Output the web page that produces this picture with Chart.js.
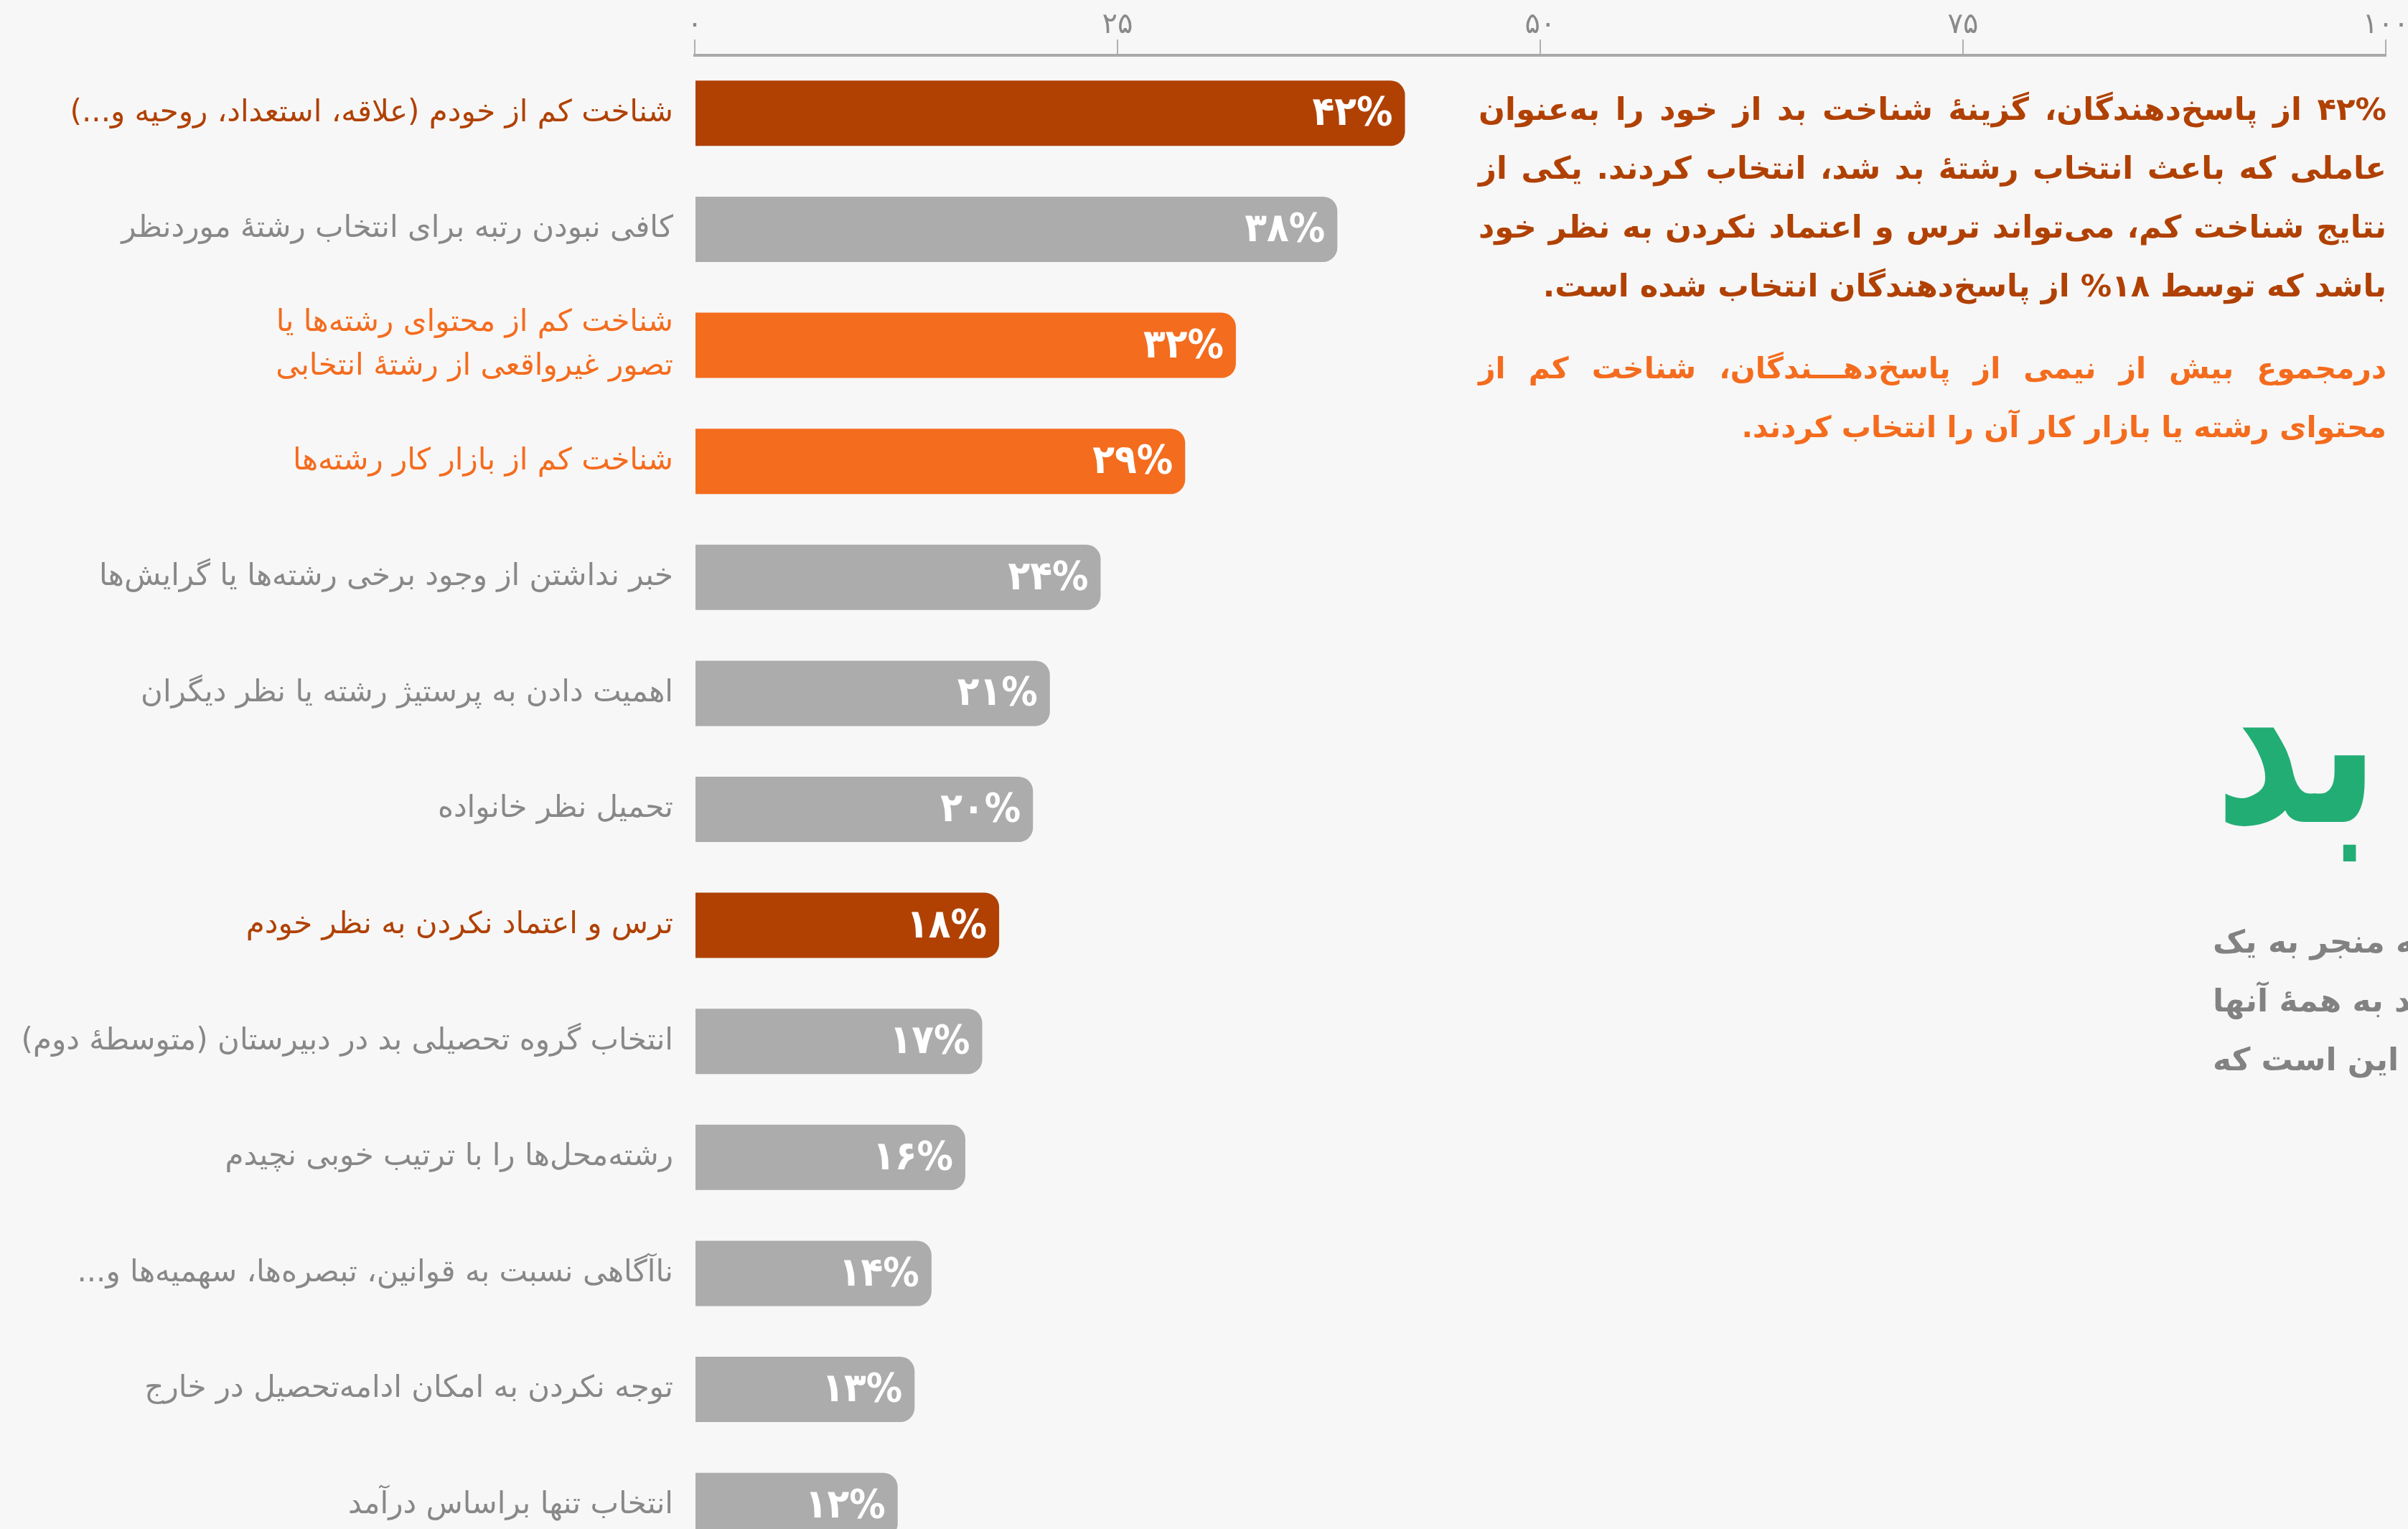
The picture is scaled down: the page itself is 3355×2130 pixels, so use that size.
<!DOCTYPE html>
<html lang="fa">
<head>
<meta charset="utf-8">
<script src="https://cdn.jsdelivr.net/npm/chart.js@4.4.1/dist/chart.umd.min.js"></script>
<style>
  html, body { margin: 0; padding: 0; width: 3355px; height: 2130px; overflow: hidden; background: #f7f7f7; }
  #reasons { position: absolute; left: 0; top: 0; }
  .note { position: absolute; left: 2060px; width: 1265px; direction: rtl; font-family: "DejaVu Sans"; font-weight: bold; line-height: 82px; }
  .note div { white-space: nowrap; text-align: justify; text-align-last: justify; }
  .note div.last { text-align-last: right; }
  #n1 { top: 111px; font-size: 43.4px; color: #b04103; }
  #n2 { top: 472px; font-size: 41px; color: #f46c1e; }
  #title { position: absolute; left: 3086px; top: 942px; direction: rtl; white-space: nowrap; font-family: "DejaVu Sans"; font-weight: bold; font-size: 240px; line-height: 240px; color: #22ad74; transform: scaleY(1.32); transform-origin: 0 203px; }
  #intro { position: absolute; left: 3083px; top: 1271px; direction: rtl; font-family: "DejaVu Sans"; font-weight: bold; font-size: 44px; line-height: 82px; color: #828282; }
  #intro div { white-space: nowrap; text-align: left; }
</style>
</head>
<body>
<canvas id="reasons" width="3355" height="2178" dir="rtl"></canvas>

<div class="note" id="n1">
  <div>۴۲% از پاسخ‌دهندگان، گزینهٔ شناخت بد از خود را به‌عنوان</div>
  <div>عاملی که باعث انتخاب رشتهٔ بد شد، انتخاب کردند. یکی از</div>
  <div>نتایج شناخت کم، می‌تواند ترس و اعتماد نکردن به نظر خود</div>
  <div class="last">باشد که توسط ۱۸% از پاسخ‌دهندگان انتخاب شده است.</div>
</div>
<div class="note" id="n2">
  <div>درمجموع بیش از نیمی از پاسخ‌دهـــندگان، شناخت کم از</div>
  <div class="last">محتوای رشته یا بازار کار آن را انتخاب کردند.</div>
</div>

<div id="title">انتخاب رشتهٔ بد</div>
<div id="intro">
  <div>عوامل مختلفی وجود دارد که منجر به یک</div>
  <div>انتخاب بد می‌شوند و اگر دقت کنید به همهٔ آنها</div>
  <div>یک نکتهٔ مشترک دارند و آن این است که</div>
</div>

<script>
const categories = [
  "شناخت کم از خودم (علاقه، استعداد، روحیه و...)",
  "کافی نبودن رتبه برای انتخاب رشتهٔ موردنظر",
  ["شناخت کم از محتوای رشته‌ها یا", "تصور غیرواقعی از رشتهٔ انتخابی"],
  "شناخت کم از بازار کار رشته‌ها",
  "خبر نداشتن از وجود برخی رشته‌ها یا گرایش‌ها",
  "اهمیت دادن به پرستیژ رشته یا نظر دیگران",
  "تحمیل نظر خانواده",
  "ترس و اعتماد نکردن به نظر خودم",
  "انتخاب گروه تحصیلی بد در دبیرستان (متوسطهٔ دوم)",
  "رشته‌محل‌ها را با ترتیب خوبی نچیدم",
  "ناآگاهی نسبت به قوانین، تبصره‌ها، سهمیه‌ها و...",
  "توجه نکردن به امکان ادامه‌تحصیل در خارج",
  "انتخاب تنها براساس درآمد"
];
const shares = [42, 38, 32, 29, 24, 21, 20, 18, 17, 16, 14, 13, 12];
const axisTicks = [0, 25, 50, 75, 100];

const DARK = "#b04103", ORANGE = "#f46c1e", GREY = "#acacac";
const barColors = [DARK, GREY, ORANGE, ORANGE, GREY, GREY, GREY, DARK, GREY, GREY, GREY, GREY, GREY];
const labelColors = [DARK, "#888888", ORANGE, ORANGE, "#888888", "#888888", "#888888", DARK,
  "#888888", "#888888", "#888888", "#888888", "#888888"];

const faDigits = "۰۱۲۳۴۵۶۷۸۹";
function toFa(n) {
  return String(n).replace(/[0-9]/g, d => faDigits[d]);
}

// white percentage at the end of each bar
const valueLabels = {
  id: "valueLabels",
  afterDatasetsDraw(chart) {
    const ctx = chart.ctx;
    const meta = chart.getDatasetMeta(0);
    ctx.save();
    ctx.fillStyle = "#ffffff";
    ctx.font = 'bold 56px "DejaVu Sans Condensed", "DejaVu Sans"';
    ctx.textAlign = "right";
    ctx.textBaseline = "middle";
    meta.data.forEach((bar, i) => {
      ctx.fillText(toFa(shares[i]) + "%", bar.x - 17, bar.y + 2);
    });
    ctx.restore();
  }
};

const reasonsChart = new Chart(document.getElementById("reasons"), {
  type: "bar",
  data: {
    labels: categories,
    datasets: [{
      data: shares,
      backgroundColor: barColors,
      borderWidth: 0,
      borderRadius: 20,
      categoryPercentage: 1,
      barPercentage: 0.563
    }]
  },
  options: {
    responsive: false,
    animation: false,
    indexAxis: "y",
    layout: { autoPadding: false, padding: { left: 0, right: 31, top: 0, bottom: 0 } },
    plugins: { legend: { display: false }, tooltip: { enabled: false } },
    scales: {
      x: {
        position: "top",
        min: 0,
        max: 100,
        afterBuildTicks: s => { s.ticks = axisTicks.map(v => ({ value: v })); },
        afterFit: s => { s.height = 77; },
        ticks: {
          callback: v => toFa(v),
          color: "#8a8a8a",
          font: { family: "DejaVu Sans", size: 40 },
          padding: -5,
          maxRotation: 0,
          autoSkip: false
        },
        grid: { drawOnChartArea: false, drawTicks: true, tickLength: 22, color: "#b0b0b0", lineWidth: 2 },
        border: { display: true, color: "#aaaaaa", width: 4 }
      },
      y: {
        // fixed label column, no extra room above/below the bars
        afterFit: s => { s.width = 968; s.paddingTop = 0; s.paddingBottom = 0; },
        grid: { display: false, drawTicks: false },
        border: { display: false },
        ticks: {
          color: c => labelColors[c.index],
          font: { family: "DejaVu Sans", size: 42, lineHeight: 1.45 },
          padding: 30,
          autoSkip: false
        }
      }
    }
  },
  plugins: [valueLabels]
});
</script>
</body>
</html>
